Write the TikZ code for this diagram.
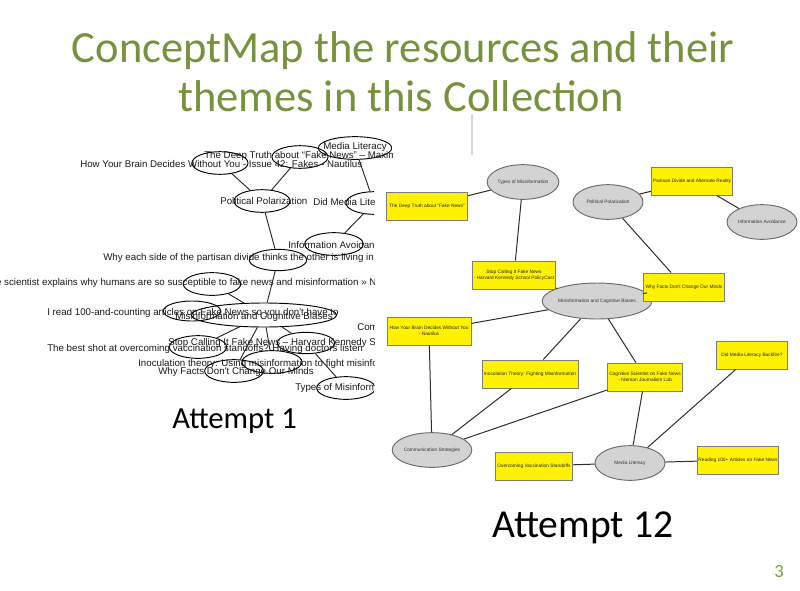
\documentclass[tikz,border=0pt]{standalone}
\usepackage{fontspec}
\setmainfont{Carlito}
\newfontfamily\arialf{Liberation Sans}
\usetikzlibrary{shapes.geometric}
\definecolor{titlegreen}{RGB}{118,146,60}
\definecolor{pagegreen}{RGB}{125,160,65}
\definecolor{ellgray}{RGB}{211,211,211}
\definecolor{ellborder}{RGB}{105,105,105}
\definecolor{boxborder}{RGB}{125,125,125}
\definecolor{linkgray}{RGB}{45,45,45}
\definecolor{seprule}{RGB}{215,215,215}
\begin{document}
\begin{tikzpicture}[x=0.75pt,y=-0.75pt,
  lell/.style={draw=black, line width=0.7pt, ellipse, inner sep=0pt, minimum width=42pt, minimum height=17pt},
  ltxt/.style={font=\arialf\fontsize{7.3}{8}\selectfont, anchor=west, inner sep=0pt, text=black!90},
  llink/.style={draw=black!85, line width=0.7pt},
  rell/.style={draw=ellborder, fill=ellgray, line width=0.7pt, ellipse, inner sep=0pt, minimum width=52.5pt, minimum height=26pt, font=\arialf\fontsize{3.6}{4.3}\selectfont, text=black!80},
  rbox/.style={draw=boxborder, fill=yellow, line width=0.7pt, inner sep=0pt, minimum height=21pt, align=center, font=\arialf\fontsize{3.6}{4.3}\selectfont, text=black!85},
  rlink/.style={draw=linkgray, line width=0.75pt},
  captxt/.style={text=black, inner sep=0pt, anchor=base west}
]
\useasboundingbox (0,0) rectangle (800,590);

% ---------- title ----------
\node[font=\fontsize{33.4}{40}\selectfont, text=titlegreen, anchor=base, inner sep=0pt] (t1) at (403,62) {ConceptMap the resources and their};
\node[font=\fontsize{33.4}{40}\selectfont, text=titlegreen, anchor=base, inner sep=0pt] (t2) at (401,111) {themes in this Collection};
\draw[seprule, line width=1.5pt] (472,114) -- (472,155);

% ---------- Attempt 1 (left map) ----------
\begin{scope}
\clip (0,125) -- (392,125) -- (392,160) -- (374,160) -- (374,410) -- (0,410) -- cycle;
% ellipses
\node[lell] (lbrain) at (220,163) {};
\node[lell] (ldeep) at (300,157) {};
\node[lell, minimum width=55pt] (lmedlit) at (355,148) {};
\node[lell] (lpol) at (262,201) {};
\node[lell] (ldid) at (374,203) {};
\node[lell, minimum width=44pt] (linfo) at (334,244) {};
\node[lell, minimum width=43pt, minimum height=16pt] (lwhy) at (278,260) {};
\node[lell, minimum width=43pt] (lsci) at (212,284) {};
\node[lell, minimum width=43pt, minimum height=15pt] (liread) at (192,311) {};
\node[lell, minimum width=109pt, minimum height=18pt] (lmis) at (264,315) {};
\node[lell, minimum width=43pt] (lstop) at (198,347) {};
\node[lell, minimum width=43pt, minimum height=16pt] (lharv) at (306,343) {};
\node[lell, minimum width=45pt] (linoc) at (272,362) {};
\node[lell, minimum width=44pt] (lwhyf) at (234,371) {};
\node[lell, minimum width=44pt] (ltypes) at (346,388) {};
% texts
\node[ltxt] (tbrain) at (80,164) {How Your Brain Decides Without You - Issue 42: Fakes - Nautilus};
\node[ltxt] (tdeep) at (204,156) {The Deep Truth about “Fake News” – Maxim};
\node[ltxt, anchor=center] (tmedlit) at (355,147) {Media Literacy};
\node[ltxt] (tpol) at (220,201) {Political Polarization};
\node[ltxt] (tdid) at (313,203) {Did Media Literacy Backfire?};
\node[ltxt] (tinfo) at (288,245) {Information Avoidance};
\node[ltxt] (twhy) at (103,258) {Why each side of the partisan divide thinks the other is living in an alternate reality};
\node[ltxt] (tsci) at (4,283) {\llap{Cognitive }scientist explains why humans are so susceptible to fake news and misinformation » Nieman Journalism Lab};
\node[ltxt] (tiread) at (47,313) {I read 100-and-counting articles on Fake News so you don't have to};
\node[ltxt] (tmis) at (175,317) {Misinformation and Cognitive Biases};
\node[ltxt] (tcomm) at (357,328) {Communication Strategies};
\node[ltxt] (tstop) at (168,343) {Stop Calling It Fake News – Harvard Kennedy School PolicyCast};
\node[ltxt] (tbest) at (47,349) {The best shot at overcoming vaccination standoffs? Having doctors listen};
\node[ltxt] (tinoc) at (138,364) {Inoculation theory: Using misinformation to fight misinformation};
\node[ltxt] (twhyf) at (158,372) {Why Facts Don't Change Our Minds};
\node[ltxt] (ttypes) at (295,388) {Types of Misinformation};
% links
\draw[llink] (lbrain) -- (lpol);
\draw[llink] (ldeep) -- (lpol);
\draw[llink] (lmedlit) -- (ldid);
\draw[llink] (ldid) -- (linfo);
\draw[llink] (lpol) -- (lwhy);
\draw[llink] (lwhy) -- (lmis);
\draw[llink] (lsci) -- (lmis);
\draw[llink] (lmis) -- (lstop);
\draw[llink] (lmis) -- (lwhyf);
\draw[llink] (lmis) -- (linoc);
\draw[llink] (lmis) -- (lharv);
\draw[llink] (lharv) -- (ltypes);
\end{scope}
\node[captxt, font=\fontsize{23}{27}\selectfont] (cap1) at (172,428) {Attempt 1};

% ---------- Attempt 12 (right map) ----------
\node[rell] (rtypes) at (523,182) {Types of Misinformation};
\node[rell] (rpol) at (608,202) {Political Polarization};
\node[rell] (rinfo) at (762,222) {Information Avoidance};
\node[rell, minimum width=63pt, minimum height=27pt] (rmis) at (597,301) {Misinformation and Cognitive Biases};
\node[rell] (rcomm) at (432,450) {Communication Strategies};
\node[rell] (rmed) at (630,463) {Media Literacy};

\node[rbox, minimum width=61pt] (rdeep) at (427,206) {The Deep Truth about “Fake News”};
\node[rbox, minimum width=62pt] (rstop) at (514,275) {Stop Calling It Fake News\\- Harvard Kennedy School PolicyCast};
\node[rbox, minimum width=61pt] (rpart) at (692,181) {Partisan Divide and Alternate Reality};
\node[rbox, minimum width=61pt] (rwhy) at (684,287) {Why Facts Don't Change Our Minds};
\node[rbox, minimum width=63pt] (rbrain) at (429,331) {How Your Brain Decides Without You\\- Nautilus};
\node[rbox, minimum width=72pt] (rinoc) at (530,374) {Inoculation Theory: Fighting Misinformation};
\node[rbox, minimum width=56pt] (rcog) at (645,377) {Cognitive Scientist on Fake News\\- Nieman Journalism Lab};
\node[rbox, minimum width=53pt] (rdid) at (752,355) {Did Media Literacy Backfire?};
\node[rbox, minimum width=58pt] (rover) at (534,466) {Overcoming Vaccination Standoffs};
\node[rbox, minimum width=61pt] (rread) at (738,460) {Reading 100+ Articles on Fake News};

\draw[rlink] (rdeep) -- (rtypes);
\draw[rlink] (rtypes) -- (rstop);
\draw[rlink] (rstop) -- (rmis);
\draw[rlink] (rpol) -- (rpart);
\draw[rlink] (rpart) -- (rinfo);
\draw[rlink] (rpol) -- (rwhy);
\draw[rlink] (rwhy) -- (rmis);
\draw[rlink] (rbrain) -- (rmis);
\draw[rlink] (rmis) -- (rinoc);
\draw[rlink] (rmis) -- (rcog);
\draw[rlink] (rbrain) -- (rcomm);
\draw[rlink] (rinoc) -- (rcomm);
\draw[rlink] (rcog) -- (rcomm);
\draw[rlink] (rcog) -- (rmed);
\draw[rlink] (rdid) -- (rmed);
\draw[rlink] (rover) -- (rmed);
\draw[rlink] (rmed) -- (rread);

\node[captxt, font=\fontsize{29.7}{34}\selectfont] (cap12) at (492,537) {Attempt 12};
\node[font=\fontsize{14}{16}\selectfont, text=pagegreen, anchor=base, inner sep=0pt] (pnum) at (779,577) {3};
\end{tikzpicture}
\end{document}
